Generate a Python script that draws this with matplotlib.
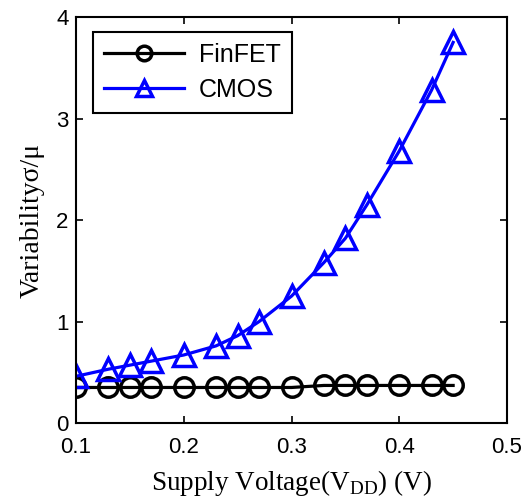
import matplotlib
matplotlib.use("Agg")
import matplotlib.pyplot as plt

vdd = [0.10, 0.13, 0.15, 0.17, 0.20, 0.23, 0.25, 0.27, 0.30, 0.33, 0.35, 0.37, 0.40, 0.43, 0.45]
finfet = [0.35, 0.35, 0.35, 0.35, 0.35, 0.35, 0.35, 0.35, 0.35, 0.37, 0.37, 0.37, 0.37, 0.37, 0.37]
cmos = [0.46, 0.53, 0.57, 0.61, 0.67, 0.76, 0.86, 1.00, 1.25, 1.58, 1.82, 2.15, 2.68, 3.28, 3.75]
xticks = [0.1, 0.2, 0.3, 0.4, 0.5]
yticks = [0, 1, 2, 3, 4]

fig = plt.figure(figsize=(5.29, 5.01), dpi=100)
ax = fig.add_axes([0.1437, 0.1557, 0.9584 - 0.1437, 0.966 - 0.1557])

ax.plot(vdd, finfet, color='black', lw=2.3, marker='o', ms=14, mfc='none', mew=2.5, label='FinFET')
ax.plot(vdd, cmos, color='#0000ff', lw=2.3, marker='^', ms=16, mfc='none', mew=2.5, label='CMOS')

ax.set_xlim(0.1, 0.5)
ax.set_ylim(0, 4)
ax.set_xticks(xticks)
ax.set_yticks(yticks)
ax.set_xticklabels(['0.1', '0.2', '0.3', '0.4', '0.5'], family='Liberation Sans', fontsize=16)
ax.set_yticklabels(['0', '1', '2', '3', '4'], family='Liberation Sans', fontsize=16)
ax.tick_params(direction='in', length=5, width=1.2, top=True, right=True)
ax.tick_params(axis='x', pad=10)
ax.tick_params(axis='y', pad=5.5)
for s in ax.spines.values():
    s.set_linewidth(1.5)

ax.set_xlabel('Supply Voltage(V$_{\\mathregular{DD}}$) (V)', family='Liberation Serif', fontsize=19.5, labelpad=7)
ax.set_ylabel('Variability\u03c3/\u03bc', family='Liberation Serif', fontsize=20, labelpad=8)

leg = ax.legend(loc='upper left', bbox_to_anchor=(0.01, 0.995), prop={'family': 'Liberation Sans', 'size': 18},
                handlelength=3.2, fancybox=False, edgecolor='black', framealpha=1, borderpad=0.45,
                labelspacing=0.45, handletextpad=0.6, markerscale=0.75)
leg.get_frame().set_linewidth(1.5)

fig.savefig('out.png', dpi=100)
